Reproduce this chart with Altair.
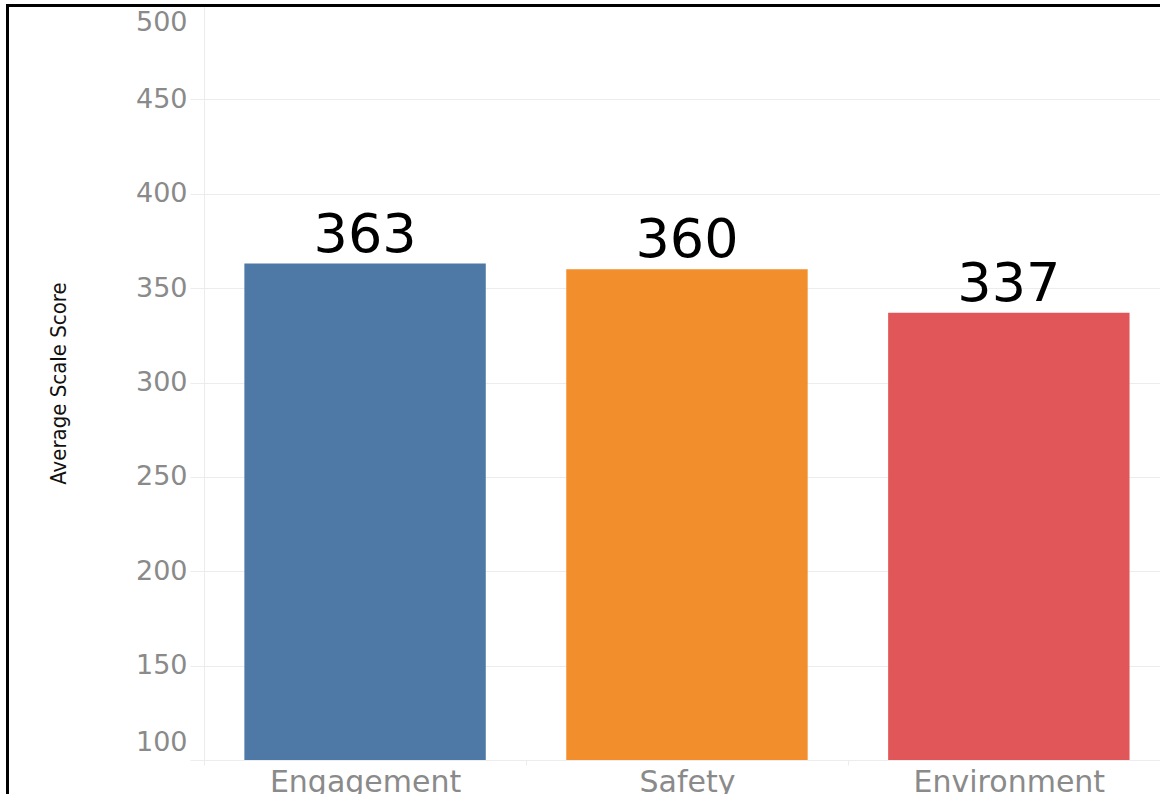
import altair as alt
import pandas as pd

categories = ["Engagement", "Safety", "Environment"]
scores = [363, 360, 337]
colors = ["#4e79a7", "#f28e2b", "#e15759"]
y_ticks = [100, 150, 200, 250, 300, 350, 400, 450, 500]

df = pd.DataFrame({"Category": categories, "Score": scores})
frame_df = pd.DataFrame({"k": [0]})

GRID = "#ececec"
LABEL = "#8a8a8a"

x_enc = alt.X(
    "Category:N",
    sort=categories,
    scale=alt.Scale(paddingInner=0.25, paddingOuter=0.11, align=0.57),
    axis=alt.Axis(
        title=None,
        labelFont="DejaVu Sans",
        labelFontSize=30,
        labelColor=LABEL,
        labelPadding=2,
        labelAngle=0,
        labelLimit=0,
        labelOverlap=False,
        domainColor=GRID,
        tickColor=GRID,
        tickSize=5,
        bandPosition=0,
        tickOffset=-40,
        labelOffset=40,
        grid=False,
    ),
)

y_enc = alt.Y(
    "Score:Q",
    scale=alt.Scale(domain=[100, 500], zero=False, nice=False),
    axis=alt.Axis(
        title="Average Scale Score",
        values=y_ticks,
        titleFont="Liberation Sans Narrow, DejaVu Sans Condensed, sans-serif",
        titleFontSize=22,
        titleFontWeight="normal",
        titleColor="#111111",
        titleX=-134,
        titleY=378,
        titleAngle=-90,
        titleAlign="center",
        titleBaseline="bottom",
        labelFont="DejaVu Sans",
        labelFontSize=27,
        labelColor=LABEL,
        labelPadding=3,
        labelFlush=True,
        labelFlushOffset=-4,
        tickSize=14,
        tickColor=GRID,
        domainColor=GRID,
        gridColor=GRID,
    ),
)

bars = alt.Chart(df).mark_bar().encode(
    x=x_enc,
    y=y_enc,
    y2=alt.datum(100),
    color=alt.Color(
        "Category:N",
        scale=alt.Scale(domain=categories, range=colors),
        legend=None,
    ),
)

labels = alt.Chart(df).mark_text(
    font="DejaVu Sans",
    fontSize=54,
    color="#000000",
    baseline="alphabetic",
    dy=-12,
).encode(
    x=alt.X("Category:N", sort=categories),
    y=alt.Y("Score:Q"),
    text=alt.Text("Score:Q"),
)

frame = alt.Chart(frame_df).mark_rect(
    fillOpacity=0, stroke="#000000", strokeWidth=3
).encode(
    x=alt.value(-196.5),
    x2=alt.value(1100),
    y=alt.value(0.5),
    y2=alt.value(900),
)

chart = (
    alt.layer(bars, labels, frame)
    .properties(
        width=956,
        height=755,
        autosize=alt.AutoSizeParams(type="none"),
        padding={"left": 204, "top": 5, "right": 0, "bottom": 34},
        background="white",
    )
    .configure_view(stroke=None)
)

chart.save("out.html", embed_options={"renderer": "svg", "actions": False})
